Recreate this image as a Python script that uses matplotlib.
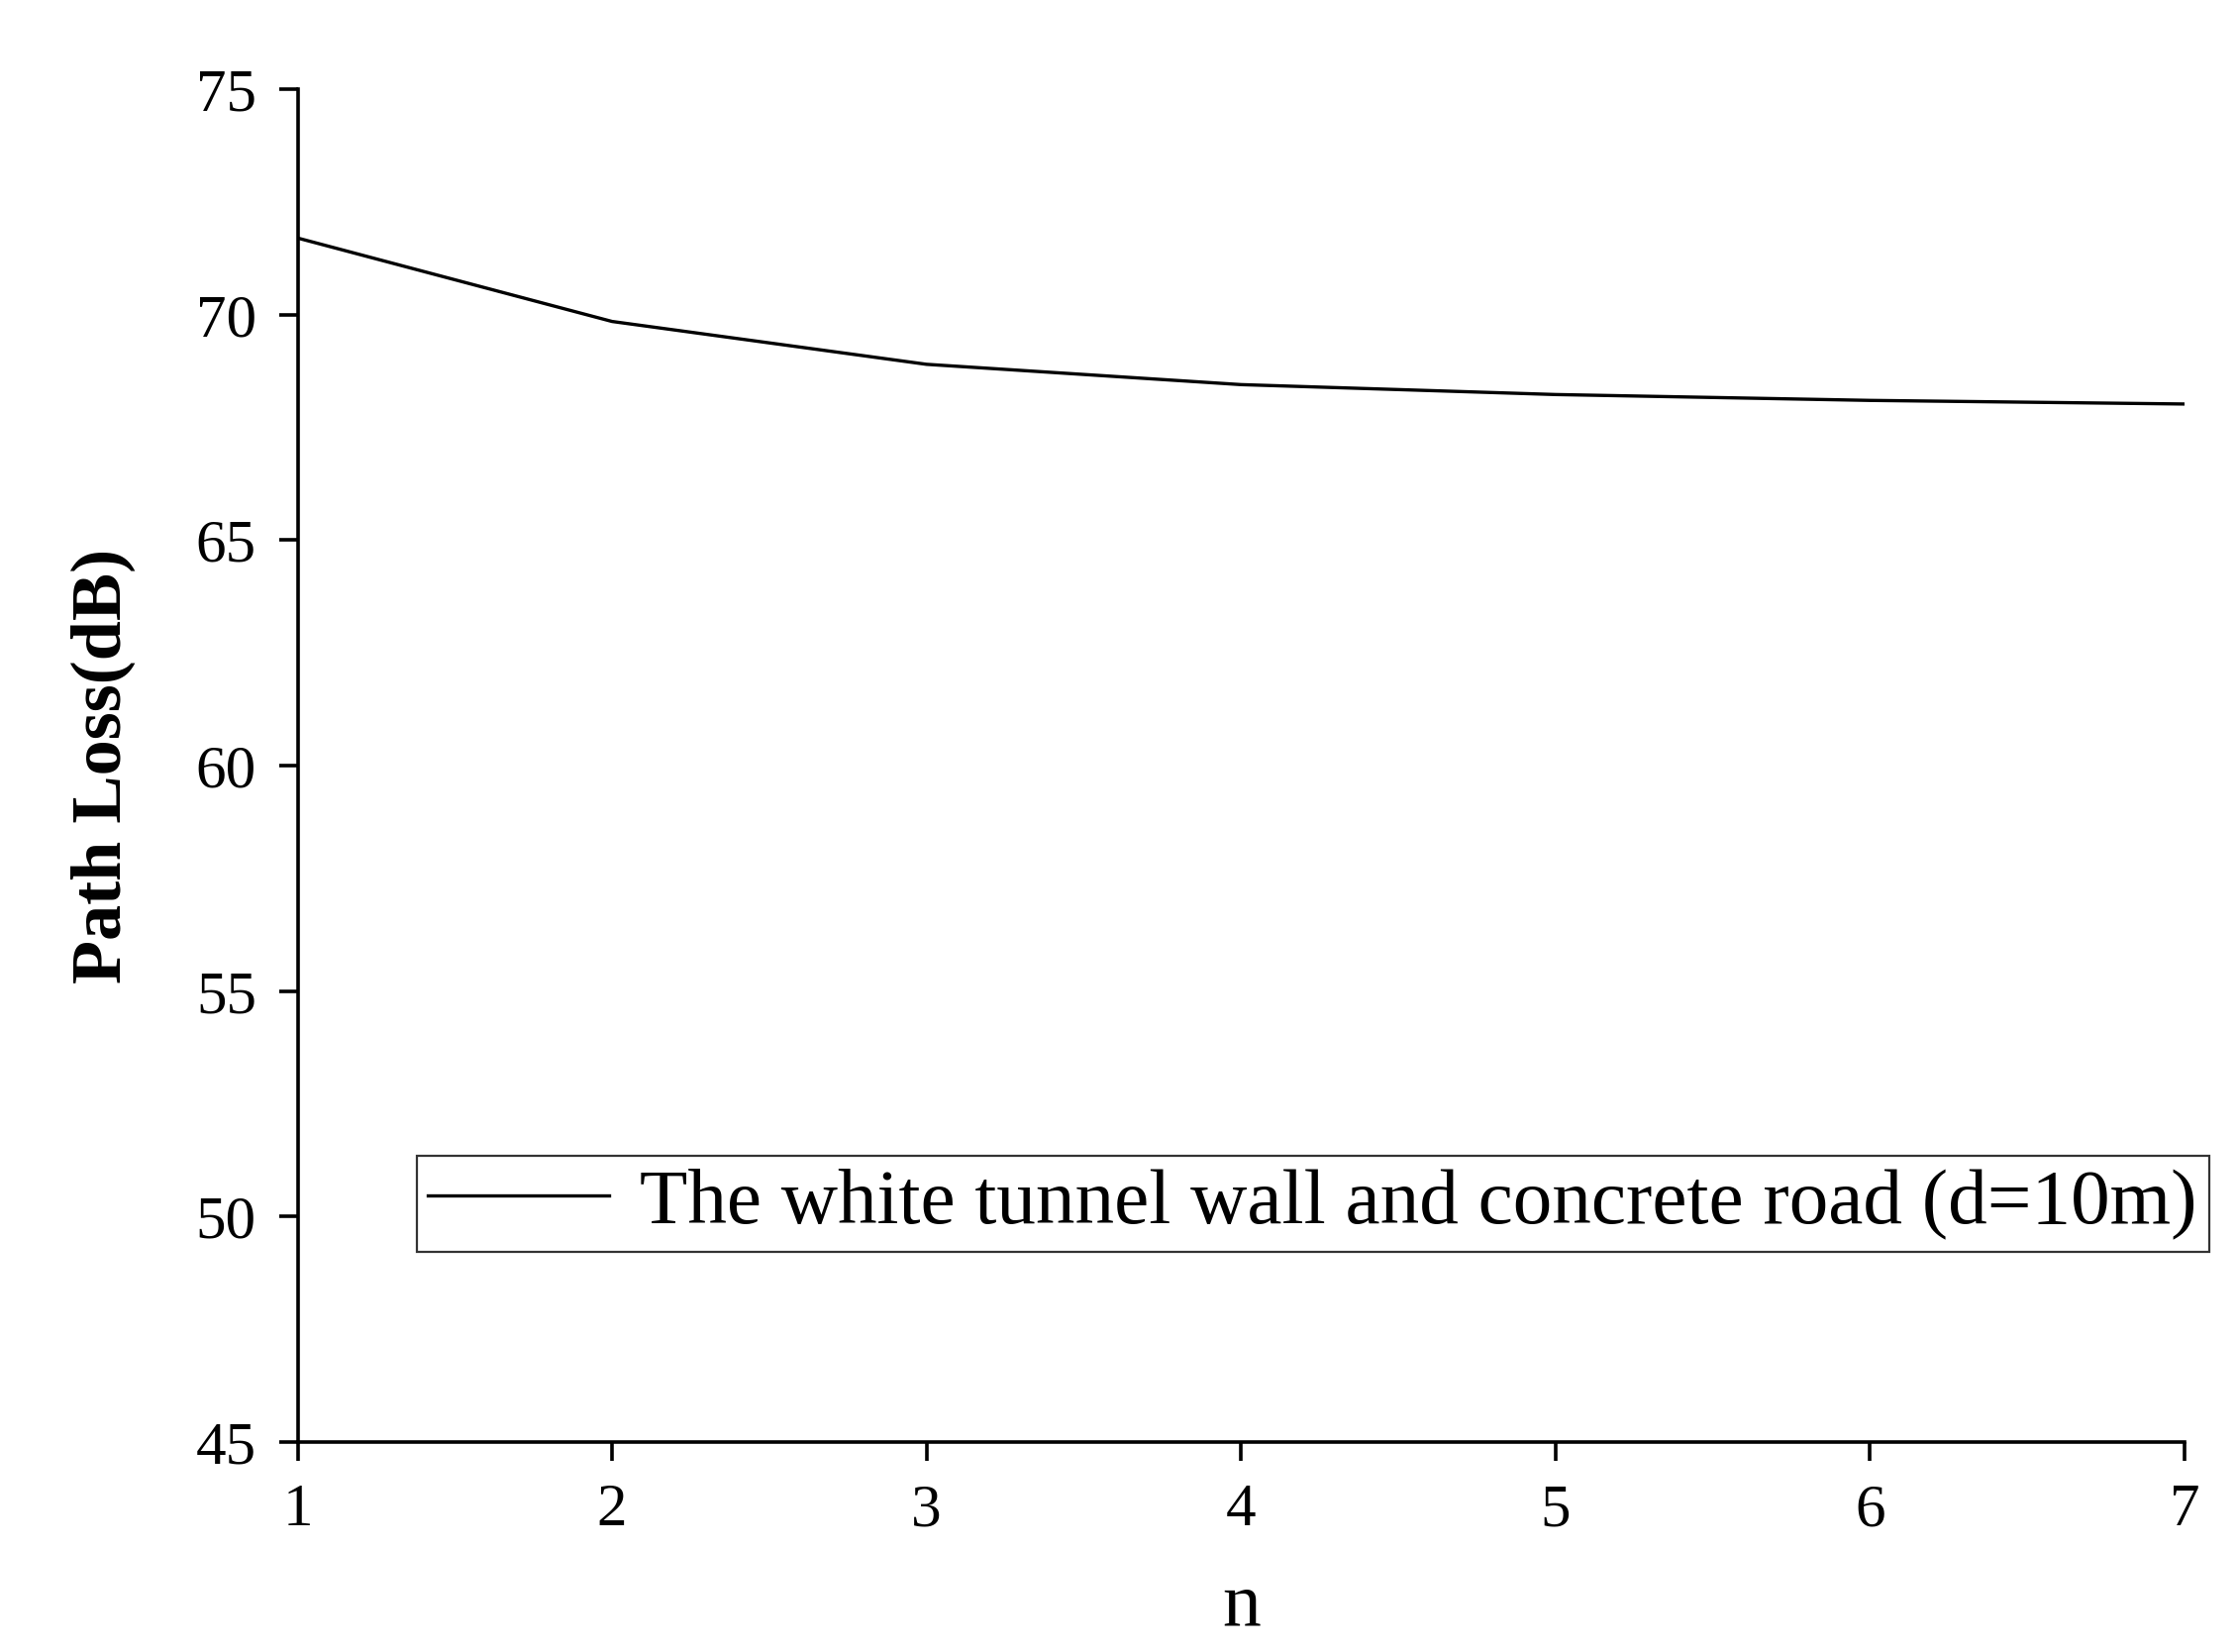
import matplotlib
matplotlib.use("Agg")
import matplotlib.pyplot as plt

n_values = [1, 2, 3, 4, 5, 6, 7]
path_loss = [71.7, 69.85, 68.9, 68.45, 68.23, 68.1, 68.02]
series_label = "The white tunnel wall and concrete road (d=10m)"

plt.rcParams["font.family"] = ["Liberation Serif", "DejaVu Serif"]

fig = plt.figure(figsize=(11.3, 8.34), dpi=200)
ax = fig.add_axes([0.133, 0.127, 0.843, 0.819])
ax.plot(n_values, path_loss, color="black", linewidth=1.2, label=series_label)

ax.set_xlim(1, 7)
ax.set_ylim(45, 75)
ax.set_xticks(n_values)
ax.set_yticks(range(45, 76, 5))
ax.spines["top"].set_visible(False)
ax.spines["right"].set_visible(False)
for s in ("left", "bottom"):
    ax.spines[s].set_linewidth(1.3)
ax.tick_params(direction="out", length=7, width=1.3, labelsize=22, pad=8)

ax.set_xlabel("n", fontsize=28, labelpad=12)
ax.set_ylabel("Path Loss(dB)", fontsize=26, fontweight="bold", labelpad=22)

leg = ax.legend(loc="lower left", bbox_to_anchor=(0.063, 0.141), fontsize=28.5,
                frameon=True, fancybox=False, edgecolor="black",
                handlelength=2.3, handletextpad=0.4, borderpad=0.15,
                borderaxespad=0)
leg.get_frame().set_linewidth(0.8)
leg.set_clip_on(False)

fig.savefig("out.png", dpi=200)
